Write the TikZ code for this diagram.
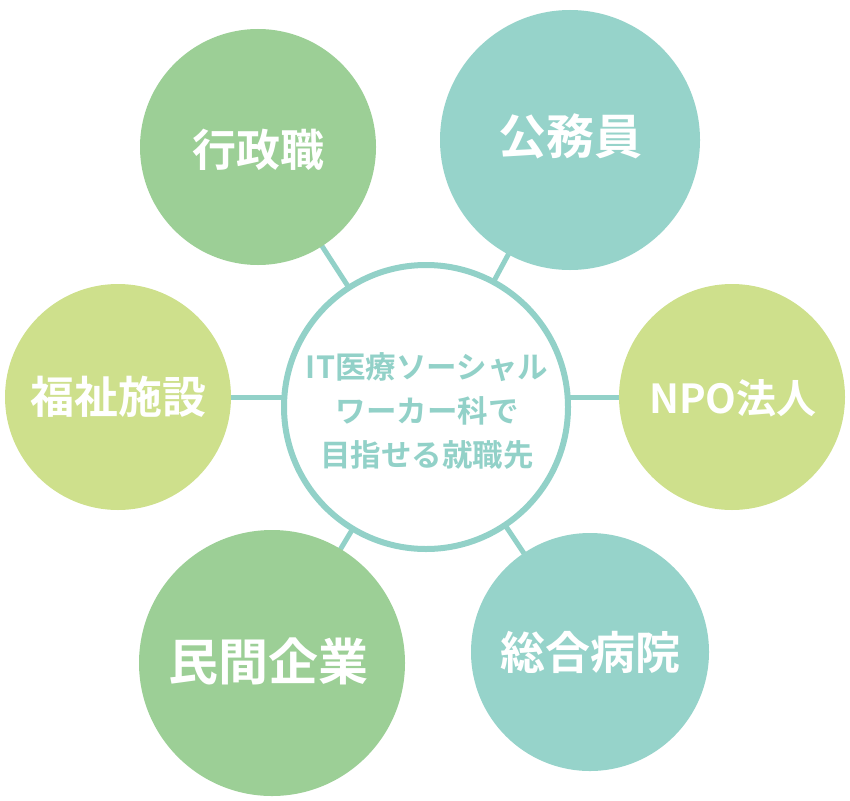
\documentclass[tikz,border=0pt]{standalone}
\usepackage{fontspec}
\newfontfamily\jp{Noto Sans CJK JP Bold}
\definecolor{cgreen}{HTML}{9CCF96}
\definecolor{cteal}{HTML}{96D3CA}
\definecolor{clight}{HTML}{CEE08C}
\definecolor{cline}{HTML}{92D1C8}
\begin{document}
\begin{tikzpicture}[x=1pt,y=-1pt,
  outer/.style={circle,inner sep=0pt,text=white,font=\jp\fontsize{44}{48}\selectfont},
  link/.style={draw=cline,line width=5pt}]
\useasboundingbox (0,0) rectangle (850,800);
\coordinate (c0) at (426,407);
\coordinate (c1) at (258,147);
\coordinate (c2) at (570,140);
\coordinate (c3) at (118,397);
\coordinate (c4) at (732,397);
\coordinate (c5) at (272,663);
\coordinate (c6) at (590,652);
\draw[link] (c0) -- (c1);
\draw[link] (c0) -- (c2);
\draw[link] (c3 |- 0,397) -- (c4 |- 0,397);
\draw[link] (c0) -- (c5);
\draw[link] (c0) -- (c6);
\node[outer,fill=cgreen,minimum size=236pt] (n1) at (c1) {};
\node[outer,fill=cteal,minimum size=260pt] (n2) at (c2) {};
\node[outer,fill=clight,minimum size=226pt] (n3) at (c3) {};
\node[outer,fill=clight,minimum size=226pt] (n4) at (c4) {};
\node[outer,fill=cgreen,minimum size=266pt] (n5) at (c5) {};
\node[outer,fill=cteal,minimum size=238pt] (n6) at (c6) {};
\node[outer] (l1) at (258,150) {行政職};
\node[outer,font=\jp\fontsize{48}{52}\selectfont] (l2) at (570,136) {公務員};
\node[outer] (l3) at (118,397) {福祉施設};
\node[outer,font=\jp\fontsize{40}{48}\selectfont] (l4) at (733,398) {NPO法人};
\node[outer,font=\jp\fontsize{50}{54}\selectfont] (l5) at (268,661) {民間企業};
\node[outer,font=\jp\fontsize{45}{48}\selectfont] (l6) at (590,652) {総合病院};
\node[circle,draw=cline,line width=6pt,fill=white,minimum size=284pt,inner sep=0pt] (n0) at (c0) {};
\node[text=cline,align=center,font=\jp\fontsize{30.5}{44}\selectfont] (t0) at (427,411) {IT医療ソーシャル\\ワーカー科で\\目指せる就職先};
\end{tikzpicture}
\end{document}
